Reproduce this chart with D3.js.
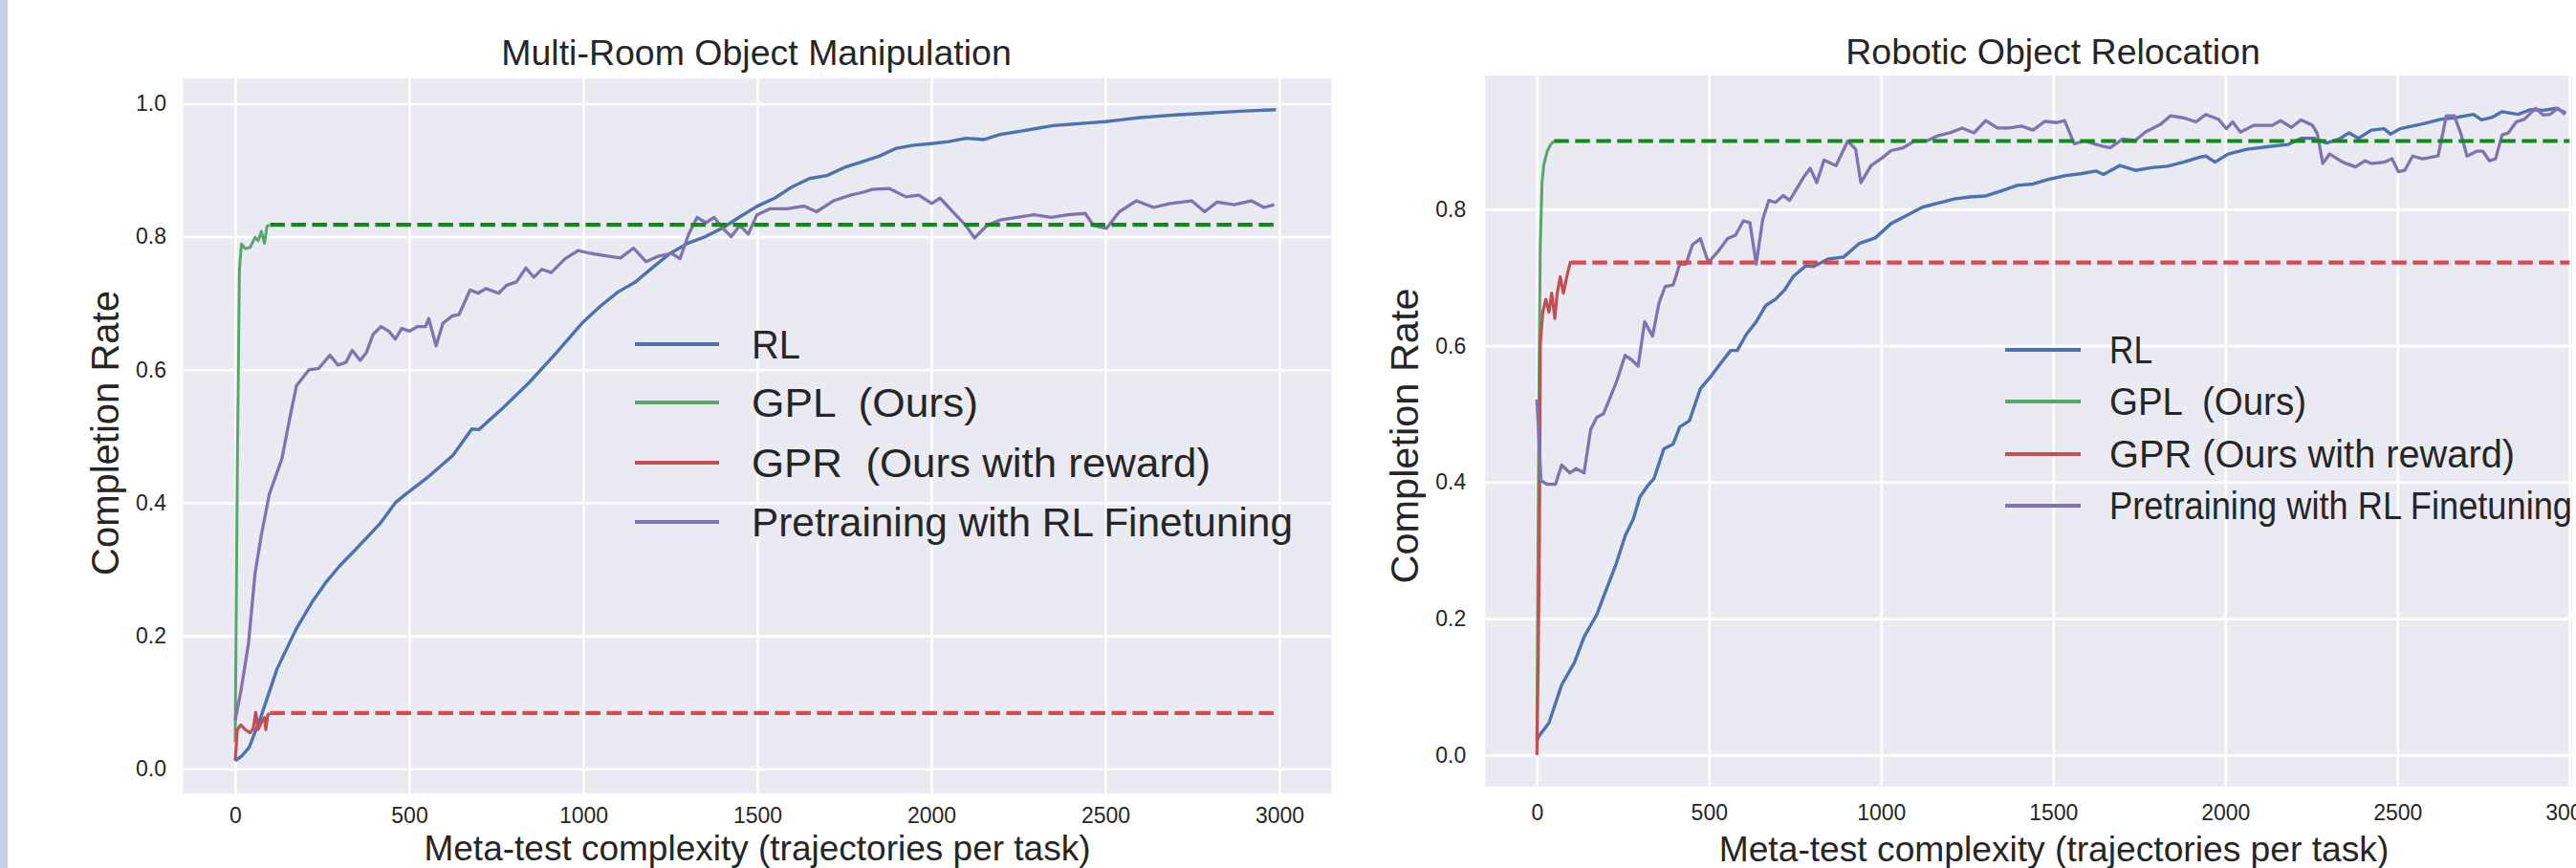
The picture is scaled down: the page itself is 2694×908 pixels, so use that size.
<!DOCTYPE html>
<html><head><meta charset="utf-8">
<script src="https://cdn.jsdelivr.net/npm/d3@7"></script>
<style>
body{margin:0;background:#fff;overflow:hidden}
text{font-family:"Liberation Sans",Arial,sans-serif;fill:#262626}
</style>
</head><body>
<svg id="chart" width="2694" height="908"></svg>
<script>
// ---------- data ----------
const xTickValues = [0, 500, 1000, 1500, 2000, 2500, 3000];
const leftYTickValues = [0, 0.2, 0.4, 0.6, 0.8, 1.0];
const rightYTickValues = [0, 0.2, 0.4, 0.6, 0.8];
const leftTitle = "Multi-Room Object Manipulation";
const rightTitle = "Robotic Object Relocation";
const xLabel = "Meta-test complexity (trajectories per task)";
const yLabel = "Completion Rate";
const leftLegendLabels = ["RL", "GPL  (Ours)", "GPR  (Ours with reward)", "Pretraining with RL Finetuning"];
const rightLegendLabels = ["RL", "GPL  (Ours)", "GPR (Ours with reward)", "Pretraining with RL Finetuning"];

const leftRL = [[0,0.012],[20,0.02],[40,0.032],[75,0.08],[120,0.15],[175,0.21],[220,0.25],[260,0.28],[300,0.305],[350,0.332],[415,0.368],[460,0.40],[490,0.413],[550,0.437],[625,0.471],[680,0.511],[700,0.51],[770,0.543],[845,0.581],[920,0.624],[1000,0.672],[1050,0.696],[1100,0.717],[1150,0.732],[1200,0.754],[1250,0.775],[1300,0.79],[1350,0.80],[1400,0.813],[1450,0.83],[1500,0.846],[1550,0.858],[1600,0.875],[1650,0.8875],[1700,0.892],[1750,0.904],[1800,0.9125],[1850,0.921],[1900,0.933],[1950,0.9375],[2000,0.94],[2050,0.943],[2100,0.948],[2150,0.946],[2200,0.954],[2250,0.958],[2300,0.9625],[2350,0.967],[2400,0.969],[2450,0.971],[2500,0.973],[2550,0.976],[2600,0.979],[2650,0.981],[2700,0.983],[2800,0.986],[2900,0.989],[2990,0.991]];
const leftGPL = [[0,0.04],[6,0.45],[12,0.75],[18,0.789],[29,0.782],[43,0.784],[57,0.799],[66,0.794],[75,0.808],[84,0.79],[91,0.815],[97,0.818]];
const leftGPLFinal = [[100,0.818],[3000,0.818]];
const leftGPR = [[0,0.012],[6,0.059],[16,0.066],[29,0.059],[43,0.054],[52,0.061],[59,0.085],[66,0.059],[75,0.07],[84,0.077],[88,0.059],[93,0.08],[98,0.084]];
const leftGPRFinal = [[100,0.084],[3000,0.084]];
const leftPre = [[0,0.073],[16,0.116],[38,0.188],[57,0.294],[75,0.351],[98,0.413],[134,0.466],[157,0.528],[176,0.576],[212,0.6],[240,0.602],[272,0.622],[295,0.607],[318,0.611],[336,0.629],[359,0.614],[377,0.626],[396,0.653],[419,0.665],[441,0.658],[460,0.646],[478,0.662],[501,0.658],[524,0.665],[547,0.665],[556,0.677],[577,0.636],[597,0.67],[624,0.681],[643,0.683],[675,0.72],[698,0.715],[720,0.722],[757,0.715],[780,0.727],[808,0.732],[835,0.753],[858,0.739],[881,0.751],[908,0.746],[948,0.767],[985,0.779],[1021,0.775],[1070,0.771],[1107,0.768],[1144,0.783],[1180,0.7625],[1217,0.771],[1254,0.775],[1278,0.767],[1303,0.804],[1327,0.829],[1352,0.821],[1376,0.829],[1401,0.8125],[1425,0.8],[1450,0.817],[1474,0.804],[1499,0.833],[1536,0.842],[1585,0.842],[1634,0.846],[1670,0.8375],[1719,0.854],[1768,0.8625],[1805,0.867],[1830,0.871],[1879,0.8725],[1927,0.86],[1964,0.8625],[2001,0.85],[2025,0.858],[2062,0.8375],[2099,0.817],[2124,0.798],[2160,0.817],[2197,0.825],[2246,0.829],[2295,0.833],[2344,0.829],[2393,0.833],[2442,0.835],[2466,0.817],[2503,0.8125],[2540,0.8375],[2589,0.854],[2638,0.844],[2687,0.85],[2748,0.854],[2785,0.8375],[2821,0.852],[2870,0.848],[2919,0.854],[2956,0.844],[2985,0.848]];

const rightRL = [[0,0.02],[6,0.028],[35,0.047],[72,0.103],[109,0.1355],[137,0.173],[174,0.206],[202,0.243],[230,0.28],[257,0.322],[280,0.346],[299,0.378],[322,0.395],[340,0.405],[369,0.449],[396,0.456],[415,0.481],[443,0.49],[475,0.537],[507,0.556],[535,0.575],[563,0.593],[582,0.593],[609,0.617],[637,0.635],[665,0.659],[693,0.668],[720,0.682],[744,0.701],[781,0.717],[804,0.716],[846,0.727],[891,0.73],[937,0.75],[983,0.758],[1029,0.779],[1075,0.791],[1120,0.803],[1166,0.809],[1212,0.815],[1258,0.818],[1304,0.8195],[1350,0.827],[1396,0.835],[1442,0.837],[1488,0.844],[1533,0.849],[1579,0.852],[1625,0.856],[1646,0.851],[1693,0.864],[1739,0.857],[1785,0.861],[1832,0.863],[1878,0.869],[1924,0.876],[1943,0.878],[1970,0.869],[2008,0.881],[2063,0.888],[2128,0.892],[2183,0.895],[2220,0.904],[2257,0.904],[2294,0.897],[2331,0.903],[2359,0.912],[2387,0.904],[2424,0.916],[2461,0.918],[2480,0.91],[2507,0.918],[2573,0.925],[2628,0.932],[2665,0.934],[2721,0.939],[2744,0.931],[2776,0.935],[2804,0.943],[2850,0.939],[2887,0.946],[2924,0.945],[2961,0.948],[2989,0.941]];
const rightGPL = [[0,0.02],[3,0.3],[6,0.55],[10,0.75],[15,0.84],[20,0.865],[30,0.885],[40,0.895],[50,0.9]];
const rightGPLFinal = [[50,0.9],[3000,0.9]];
const rightGPR = [[0,0.0],[4,0.15],[7.5,0.322],[10,0.603],[17,0.649],[26,0.668],[35,0.649],[43,0.677],[52,0.64],[59,0.677],[68,0.701],[77,0.677],[89,0.706],[98,0.724]];
const rightGPRFinal = [[100,0.722],[3000,0.722]];
const rightPre = [[0,0.521],[12,0.402],[30,0.397],[54,0.397],[72,0.425],[96,0.4135],[114,0.42],[137,0.4135],[156,0.477],[174,0.495],[193,0.5],[216,0.528],[234,0.551],[256,0.586],[276,0.579],[294,0.57],[313,0.635],[336,0.614],[355,0.663],[373,0.687],[396,0.689],[415,0.7195],[433,0.7195],[452,0.748],[475,0.757],[498,0.722],[526,0.738],[554,0.757],[577,0.762],[600,0.783],[619,0.78],[637,0.7195],[656,0.785],[674,0.813],[693,0.81],[716,0.82],[734,0.813],[757,0.832],[776,0.848],[794,0.86],[813,0.839],[834,0.872],[869,0.864],[903,0.9],[926,0.888],[941,0.839],[971,0.864],[1005,0.876],[1029,0.886],[1064,0.89],[1097,0.9],[1132,0.9],[1166,0.908],[1200,0.912],[1235,0.919],[1270,0.912],[1304,0.93],[1338,0.919],[1373,0.919],[1407,0.922],[1441,0.916],[1476,0.929],[1510,0.927],[1533,0.93],[1561,0.896],[1591,0.9],[1625,0.895],[1646,0.892],[1665,0.89],[1702,0.903],[1739,0.901],[1767,0.913],[1813,0.925],[1841,0.937],[1878,0.934],[1915,0.928],[1943,0.939],[1980,0.932],[2003,0.918],[2021,0.928],[2044,0.913],[2082,0.923],[2137,0.923],[2160,0.93],[2192,0.92],[2220,0.931],[2253,0.923],[2267,0.911],[2283,0.867],[2303,0.881],[2341,0.869],[2378,0.862],[2406,0.871],[2424,0.867],[2461,0.869],[2484,0.874],[2503,0.855],[2521,0.857],[2544,0.878],[2572,0.874],[2618,0.878],[2642,0.937],[2665,0.937],[2684,0.911],[2702,0.878],[2730,0.885],[2748,0.885],[2767,0.871],[2785,0.874],[2804,0.909],[2822,0.912],[2845,0.928],[2869,0.932],[2901,0.948],[2924,0.938],[2943,0.939],[2966,0.948],[2987,0.939]];

// ---------- style ----------
const C = {blue:"#4c72b0", green:"#55a868", red:"#c44e52", purple:"#8172b2", gDash:"#13891a", rDash:"#d9484d"};

const svg = d3.select("#chart");
svg.append("rect").attr("x",0).attr("y",0).attr("width",8).attr("height",908).attr("fill","#c2d0ea");

function drawPanel(cfg){
  const x = d3.scaleLinear().domain([-150,3150]).range([cfg.x0,cfg.x1]);
  const y = d3.scaleLinear().domain(cfg.yDomain).range([cfg.yBottom,cfg.yTop]);
  const visRight = Math.min(cfg.x1,cfg.clipRight);
  const id = "clip"+cfg.id;
  svg.append("clipPath").attr("id",id).append("rect")
    .attr("x",cfg.x0).attr("y",cfg.yTop).attr("width",visRight-cfg.x0).attr("height",cfg.yBottom-cfg.yTop);
  const g = svg.append("g");
  g.append("rect").attr("x",cfg.x0).attr("y",cfg.yTop).attr("width",visRight-cfg.x0)
    .attr("height",cfg.yBottom-cfg.yTop).attr("fill","#eaeaf2");
  const grid = g.append("g").attr("clip-path",`url(#${id})`);
  const gx = grid.append("g").attr("transform",`translate(0,${cfg.yBottom})`)
    .call(d3.axisBottom(x).tickValues(xTickValues).tickSize(-(cfg.yBottom-cfg.yTop)).tickFormat(""));
  const gy = grid.append("g").attr("transform",`translate(${cfg.x0},0)`)
    .call(d3.axisLeft(y).tickValues(cfg.yTicks).tickSize(-(cfg.x1-cfg.x0)).tickFormat(""));
  [gx,gy].forEach(a=>{a.select(".domain").remove();a.selectAll("line").attr("stroke","#ffffff").attr("stroke-width",2.6);});
  const ax = g.append("g").attr("transform",`translate(0,${cfg.yBottom})`)
    .call(d3.axisBottom(x).tickValues(xTickValues).tickSize(0).tickPadding(cfg.xTickPad).tickFormat(d3.format("d")));
  const ay = g.append("g").attr("transform",`translate(${cfg.x0},0)`)
    .call(d3.axisLeft(y).tickValues(cfg.yTicks).tickSize(0).tickPadding(cfg.yTickPad).tickFormat(d3.format(".1f")));
  [ax,ay].forEach(a=>{a.select(".domain").remove();a.selectAll("text").attr("font-size",23).attr("fill","#333")
      .style("font-family",'"Liberation Sans",Arial,sans-serif');});
  const line = d3.line().x(d=>x(d[0])).y(d=>y(d[1]));
  const lg = g.append("g").attr("clip-path",`url(#${id})`).attr("fill","none")
    .attr("stroke-linejoin","round").attr("stroke-linecap","butt");
  const solid = [[cfg.rl,C.blue,3.4],[cfg.gpl,C.green,3.0],[cfg.gpr,C.red,3.2],[cfg.pre,C.purple,3.3]];
  solid.forEach(s=>lg.append("path").attr("d",line(s[0])).attr("stroke",s[1]).attr("stroke-width",s[2]));
  lg.append("path").attr("d",line(cfg.gplF)).attr("stroke",C.gDash).attr("stroke-width",4.2).attr("stroke-dasharray","15.5,6.5");
  lg.append("path").attr("d",line(cfg.gprF)).attr("stroke",C.rDash).attr("stroke-width",4.2).attr("stroke-dasharray","15.5,6.5");
  g.append("text").attr("x",cfg.titleX).attr("y",cfg.titleY).attr("text-anchor","middle")
    .attr("font-size",cfg.titleSize).text(cfg.title);
  g.append("text").attr("x",cfg.xLabelX).attr("y",cfg.xLabelY).attr("text-anchor","middle")
    .attr("font-size",cfg.xLabelSize).text(xLabel);
  g.append("text").attr("transform",`translate(${cfg.yLabelX},${cfg.yLabelY}) rotate(-90)`).attr("text-anchor","middle")
    .attr("font-size",cfg.yLabelSize).text(yLabel);
  const colors=[C.blue,C.green,C.red,C.purple];
  cfg.legendLabels.forEach((lab,i)=>{
    const yy = cfg.legendRows[i];
    g.append("line").attr("x1",cfg.legLine0).attr("x2",cfg.legLine1).attr("y1",yy).attr("y2",yy)
      .attr("stroke",colors[i]).attr("stroke-width",3.8);
    g.append("text").attr("x",cfg.legText).attr("y",yy+cfg.legFont*0.36).attr("font-size",cfg.legFont)
      .style("white-space","pre").attr("xml:space","preserve")
      .attr("textLength",cfg.legWidths[i]).attr("lengthAdjust","spacingAndGlyphs").text(lab);
  });
}

drawPanel({id:"L", x0:191.4, x1:1392.6, clipRight:1392.6, yTop:82, yBottom:830, yDomain:[-0.037,1.038], yTicks:leftYTickValues,
  xTickPad:14.8, yTickPad:17.4,
  rl:leftRL, gpl:leftGPL, gplF:leftGPLFinal, gpr:leftGPR, gprF:leftGPRFinal, pre:leftPre,
  title:leftTitle, titleX:791, titleY:68, titleSize:37.5,
  xLabelX:792, xLabelY:900, xLabelSize:37, yLabelX:124, yLabelY:453, yLabelSize:40,
  legendLabels:leftLegendLabels, legendRows:[360,421,484,546], legLine0:664, legLine1:752, legText:786, legFont:43,
  legWidths:[51,237,480,566]});

drawPanel({id:"R", x0:1553.3, x1:2741.3, clipRight:2690, yTop:79, yBottom:822.7, yDomain:[-0.046,0.996], yTicks:rightYTickValues,
  xTickPad:19, yTickPad:20,
  rl:rightRL, gpl:rightGPL, gplF:rightGPLFinal, gpr:rightGPR, gprF:rightGPRFinal, pre:rightPre,
  title:rightTitle, titleX:2147, titleY:67, titleSize:37.5,
  xLabelX:2148, xLabelY:901, xLabelSize:37.2, yLabelX:1483, yLabelY:456, yLabelSize:41.5,
  legendLabels:rightLegendLabels, legendRows:[366,420,475,529], legLine0:2097, legLine1:2176, legText:2206, legFont:40,
  legWidths:[45,206,424,484]});
</script>
</body></html>
